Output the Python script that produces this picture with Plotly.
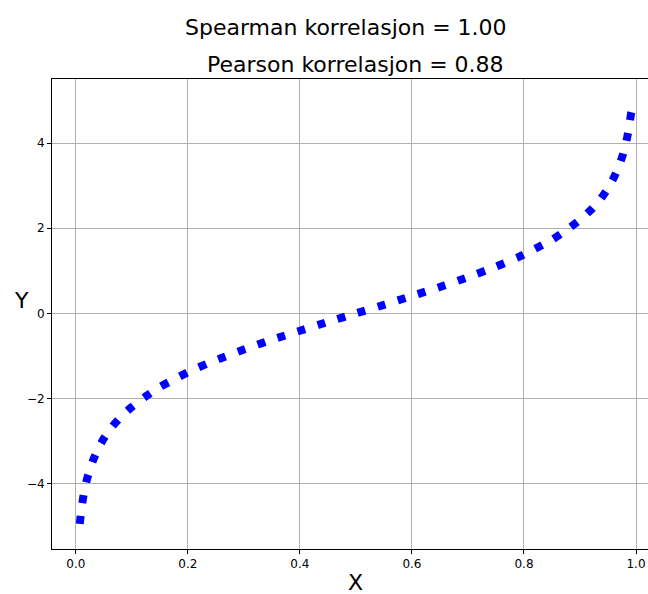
import plotly.graph_objects as go

# Values
x_vals = [0.007, 0.010, 0.015, 0.020, 0.030, 0.040, 0.050, 0.065, 0.080, 0.100,
          0.125, 0.150, 0.180, 0.210, 0.250, 0.300, 0.350, 0.400, 0.450, 0.500,
          0.550, 0.600, 0.650, 0.700, 0.750, 0.790, 0.820, 0.850, 0.875, 0.900,
          0.920, 0.935, 0.950, 0.960, 0.970, 0.977, 0.983, 0.988, 0.991, 0.993]
y_vals = [-4.95, -4.59, -4.18, -3.89, -3.48, -3.18, -2.94, -2.66, -2.44, -2.20,
          -1.95, -1.73, -1.52, -1.32, -1.10, -0.85, -0.62, -0.41, -0.20, 0.00,
          0.20, 0.41, 0.62, 0.85, 1.10, 1.32, 1.52, 1.73, 1.95, 2.20,
          2.44, 2.66, 2.94, 3.18, 3.48, 3.75, 4.06, 4.41, 4.69, 4.80]

x_ticks = [0.0, 0.2, 0.4, 0.6, 0.8, 1.0]
x_tick_labels = ["0.0", "0.2", "0.4", "0.6", "0.8", "1.0"]
y_ticks = [-4, -2, 0, 2, 4]
y_tick_labels = ["\u22124", "\u22122", "0", "2", "4"]

title_lines = ["Spearman korrelasjon = 1.00", "Pearson korrelasjon = 0.88"]

font = "DejaVu Sans"

fig = go.Figure()
fig.add_trace(go.Scatter(
    x=x_vals, y=y_vals, mode="lines",
    line=dict(color="#0000ff", width=8, dash="8px,13px", shape="spline", smoothing=0.6),
    hoverinfo="skip", showlegend=False,
))

axis_common = dict(
    showgrid=True, gridcolor="#b0b0b0", gridwidth=1,
    zeroline=False, showline=True, linecolor="black", linewidth=1,
    ticks="outside", ticklen=4, tickcolor="black", automargin=False,
    tickfont=dict(family=font, size=12, color="black"),
)

L, R, T, B = 52, 0, 79, 45
W, H = 648, 594

fig.update_layout(
    width=W, height=H,
    margin=dict(l=L, r=R, t=T, b=B, autoexpand=False),
    paper_bgcolor="white", plot_bgcolor="white",
    xaxis=dict(range=[-0.0426, 1.0214], tickvals=x_ticks, ticktext=x_tick_labels,
               mirror=True, **axis_common),
    yaxis=dict(range=[-5.54, 5.51], tickvals=y_ticks, ticktext=y_tick_labels,
               **axis_common),
)

# Convert pixel positions to paper coords for title / axis label annotations
pw, ph = W - L - R, H - T - B
def px(xp):
    return (xp - L) / pw
def py(yp):
    return (H - B - yp) / ph

def label(text, xp, yp):
    fig.add_annotation(text=text, x=px(xp), y=py(yp), xref="paper", yref="paper",
                       xanchor="center", yanchor="middle", showarrow=False,
                       font=dict(family=font, size=22, color="black"))

label(title_lines[0], 346, 28)
label(title_lines[1], 355, 64)
label("X", 355, 582)
label("Y", 21, 300)

fig.write_html("out.html", config={"displayModeBar": False},
               post_script="document.body.style.margin='0';document.body.style.overflow='hidden';")
